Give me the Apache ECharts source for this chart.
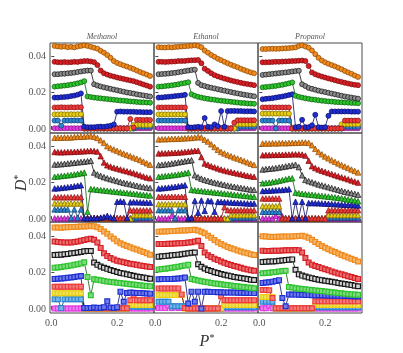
<!DOCTYPE html>
<html>
<head>
<meta charset="utf-8">
<script src="https://cdn.jsdelivr.net/npm/echarts@6/dist/echarts.min.js"></script>
<style>
html, body { margin: 0; background: #fff; }
#chart { width: 403px; height: 353px; }
</style>
</head>
<body>
<div id="chart"></div>
<script>
// reduced pressure on the x axis, shared by every panel
const pStar = [0.01,0.02,0.03,0.04,0.05,0.06,0.07,0.08,0.09,0.10,0.11,0.12,0.13,0.14,0.15,0.16,0.17,0.18,0.19,0.20,0.21,0.22,0.23,0.24,0.25,0.26,0.27,0.28,0.29,0.30];
const solvents = ['Methanol', 'Ethanol', 'Propanol'];
const xTicks = [0, 0.2];
const yTicks = [0, 0.02, 0.04];

// each panel: 9 curves, top to bottom:
// orange, red, black, green, blue, light red, yellow, steel blue, magenta
const methanolCircles = [
  [.0455,.0452,.0450,.0452,.0448,.0450,.0447,.0452,.0455,.0458, .0455,.0450,.0445,.0440,.0428,.0418,.0405,.0390,.0372,.0362, .0355,.0348,.0342,.0335,.0328,.0320,.0312,.0305,.0298,.0290],
  [.0368,.0366,.0365,.0367,.0365,.0366,.0368,.0367,.0370,.0372, .0372,.0370,.0366,.0350,.0320,.0305,.0298,.0292,.0287,.0282, .0278,.0274,.0270,.0266,.0262,.0256,.0250,.0244,.0238,.0232],
  [.0300,.0300,.0302,.0303,.0305,.0307,.0309,.0312,.0315,.0318, .0320,.0320,.0245,.0238,.0233,.0228,.0224,.0220,.0216,.0212, .0208,.0204,.0200,.0197,.0194,.0190,.0187,.0184,.0181,.0178],
  [.0232,.0234,.0236,.0238,.0240,.0243,.0246,.0250,.0255,.0262, .0178,.0175,.0172,.0170,.0168,.0166,.0164,.0162,.0160,.0158, .0156,.0155,.0153,.0151,.0150,.0148,.0147,.0146,.0145,.0144],
  [.0172,.0172,.0174,.0175,.0177,.0180,.0183,.0188,.0195,.0012, .0010,.0010,.0010,.0012,.0013,.0012,.0015,.0018,.0025,.0095, .0096,.0095,.0095,.0094,.0094,.0093,.0093,.0092,.0092,.0092],
  [.0118,.0118,.0119,.0118,.0118,.0119,.0118,.0119,.0119,.0003, .0003,.0003,.0003,.0003,.0004,.0003,.0003,.0004,.0003,.0003, .0004,.0003,.0003,.0055,.0008,.0050,.0050,.0049,.0050,.0049],
  [.0080,.0080,.0081,.0080,.0080,.0081,.0080,.0081,.0081,.0002, .0002,.0002,.0002,.0002,.0002,.0002,.0002,.0002,.0002,.0002, .0002,.0002,.0002,.0002,.0022,.0022,.0023,.0022,.0022,.0022],
  [.0046,.0046,.0018,.0046,.0046,.0046,.0047,.0046,.0046,.0002, .0002,.0002,.0002,.0002,.0002,.0002,.0002,.0002,.0002,.0002, .0002,.0002,.0002,.0002,.0002,.0012,.0012,.0012,.0012,.0012],
  [.0004,.0004,.0004,.0004,.0004,.0004,.0004,.0004,.0004,.0004, .0004,.0004,.0004,.0004,.0004,.0004,.0004,.0004,.0004,.0004, .0004,.0004,.0004,.0004,.0004,.0004,.0004,.0004,.0004,.0004]
];
const ethanolCircles = [
  [.0448,.0447,.0446,.0448,.0447,.0449,.0450,.0452,.0453,.0455, .0456,.0458,.0455,.0448,.0430,.0418,.0405,.0395,.0385,.0377, .0368,.0360,.0352,.0345,.0338,.0330,.0323,.0316,.0310,.0305],
  [.0368,.0368,.0367,.0368,.0369,.0370,.0372,.0372,.0373,.0375, .0376,.0377,.0378,.0360,.0330,.0318,.0305,.0295,.0288,.0282, .0276,.0271,.0266,.0261,.0257,.0253,.0249,.0246,.0243,.0240],
  [.0300,.0301,.0302,.0304,.0306,.0308,.0311,.0314,.0317,.0320, .0323,.0325,.0252,.0240,.0235,.0230,.0226,.0222,.0218,.0214, .0210,.0206,.0202,.0198,.0195,.0191,.0188,.0185,.0182,.0179],
  [.0232,.0233,.0235,.0237,.0239,.0242,.0245,.0249,.0252,.0256, .0190,.0182,.0176,.0172,.0168,.0165,.0162,.0160,.0157,.0155, .0153,.0151,.0149,.0147,.0145,.0143,.0142,.0140,.0139,.0138],
  [.0172,.0173,.0175,.0176,.0178,.0180,.0182,.0184,.0187,.0010, .0008,.0010,.0012,.0010,.0060,.0012,.0010,.0025,.0015,.0098, .0012,.0098,.0099,.0099,.0098,.0098,.0097,.0097,.0097,.0096],
  [.0118,.0118,.0118,.0118,.0118,.0118,.0118,.0118,.0118,.0003, .0003,.0003,.0003,.0003,.0003,.0003,.0003,.0003,.0003,.0003, .0003,.0003,.0003,.0035,.0048,.0048,.0048,.0048,.0048,.0048],
  [.0080,.0080,.0080,.0080,.0080,.0080,.0080,.0080,.0080,.0002, .0002,.0002,.0002,.0002,.0002,.0002,.0002,.0002,.0002,.0002, .0002,.0002,.0002,.0002,.0026,.0026,.0026,.0026,.0026,.0026],
  [.0046,.0046,.0046,.0046,.0046,.0046,.0046,.0046,.0046,.0002, .0002,.0002,.0002,.0002,.0002,.0002,.0002,.0002,.0002,.0002, .0002,.0002,.0002,.0002,.0002,.0012,.0012,.0012,.0012,.0012],
  [.0004,.0004,.0004,.0004,.0004,.0004,.0004,.0004,.0004,.0004, .0004,.0004,.0004,.0004,.0004,.0004,.0004,.0004,.0004,.0004, .0004,.0004,.0004,.0004,.0004,.0004,.0004,.0004,.0004,.0004]
];
const propanolCircles = [
  [.0438,.0438,.0439,.0440,.0439,.0440,.0441,.0442,.0443,.0445, .0447,.0455,.0458,.0452,.0445,.0430,.0410,.0390,.0375,.0365, .0357,.0350,.0343,.0335,.0327,.0318,.0310,.0302,.0293,.0285],
  [.0365,.0365,.0366,.0367,.0368,.0368,.0369,.0370,.0371,.0372, .0373,.0374,.0375,.0372,.0345,.0310,.0300,.0293,.0287,.0282, .0277,.0272,.0267,.0262,.0258,.0253,.0249,.0245,.0242,.0240],
  [.0296,.0298,.0300,.0302,.0304,.0306,.0308,.0310,.0312,.0315, .0317,.0319,.0245,.0235,.0225,.0220,.0215,.0210,.0206,.0202, .0198,.0194,.0190,.0186,.0182,.0178,.0175,.0172,.0169,.0166],
  [.0228,.0230,.0232,.0234,.0236,.0239,.0242,.0246,.0250,.0255, .0182,.0176,.0172,.0168,.0165,.0162,.0160,.0157,.0155,.0153, .0151,.0150,.0148,.0147,.0146,.0145,.0144,.0143,.0142,.0141],
  [.0163,.0165,.0167,.0169,.0172,.0175,.0178,.0182,.0186,.0190, .0010,.0012,.0050,.0010,.0010,.0020,.0078,.0010,.0008,.0010, .0072,.0096,.0096,.0096,.0096,.0096,.0096,.0095,.0095,.0095],
  [.0118,.0118,.0118,.0118,.0118,.0118,.0118,.0118,.0118,.0003, .0003,.0003,.0003,.0003,.0003,.0003,.0003,.0003,.0003,.0003, .0003,.0003,.0003,.0003,.0003,.0046,.0046,.0046,.0046,.0046],
  [.0084,.0084,.0084,.0084,.0084,.0084,.0084,.0084,.0084,.0002, .0002,.0002,.0002,.0002,.0002,.0002,.0002,.0002,.0002,.0002, .0002,.0002,.0002,.0002,.0026,.0026,.0026,.0026,.0026,.0026],
  [.0046,.0046,.0046,.0046,.0003,.0046,.0046,.0046,.0046,.0002, .0002,.0002,.0002,.0002,.0002,.0002,.0002,.0002,.0002,.0002, .0002,.0002,.0002,.0002,.0002,.0012,.0012,.0012,.0012,.0012],
  [.0004,.0004,.0004,.0004,.0004,.0004,.0004,.0004,.0004,.0004, .0004,.0004,.0004,.0004,.0004,.0004,.0004,.0004,.0004,.0004, .0004,.0004,.0004,.0004,.0004,.0004,.0004,.0004,.0004,.0004]
];
const methanolTriangles = [
  [.0446,.0447,.0446,.0448,.0447,.0448,.0450,.0451,.0452,.0452, .0454,.0455,.0452,.0445,.0432,.0418,.0400,.0390,.0382,.0374, .0366,.0359,.0352,.0345,.0338,.0331,.0324,.0315,.0306,.0298],
  [.0368,.0367,.0366,.0367,.0368,.0368,.0369,.0370,.0371,.0372, .0373,.0374,.0373,.0370,.0345,.0310,.0295,.0288,.0282,.0277, .0272,.0267,.0262,.0257,.0252,.0246,.0240,.0234,.0228,.0224],
  [.0299,.0300,.0301,.0303,.0305,.0307,.0309,.0311,.0313,.0315, .0317,.0320,.0255,.0245,.0237,.0230,.0224,.0219,.0214,.0209, .0204,.0199,.0195,.0191,.0187,.0183,.0179,.0176,.0173,.0170],
  [.0232,.0234,.0236,.0238,.0240,.0242,.0245,.0248,.0251,.0255, .0040,.0165,.0163,.0161,.0159,.0157,.0155,.0153,.0151,.0149, .0147,.0145,.0143,.0141,.0139,.0137,.0135,.0133,.0131,.0129],
  [.0168,.0169,.0171,.0173,.0175,.0177,.0180,.0183,.0186,.0005, .0004,.0005,.0006,.0005,.0008,.0012,.0018,.0010,.0005,.0095, .0097,.0095,.0006,.0092,.0093,.0092,.0092,.0091,.0091,.0090],
  [.0120,.0120,.0120,.0120,.0120,.0120,.0120,.0120,.0120,.0005, .0005,.0005,.0005,.0005,.0005,.0005,.0005,.0005,.0005,.0005, .0005,.0005,.0005,.0048,.0048,.0048,.0048,.0048,.0048,.0048],
  [.0086,.0086,.0086,.0086,.0086,.0086,.0086,.0086,.0086,.0003, .0003,.0003,.0003,.0003,.0003,.0003,.0003,.0003,.0003,.0003, .0003,.0003,.0003,.0003,.0022,.0022,.0022,.0022,.0022,.0022],
  [.0053,.0053,.0053,.0053,.0053,.0008,.0053,.0008,.0053,.0003, .0003,.0003,.0003,.0003,.0003,.0003,.0003,.0003,.0003,.0003, .0003,.0003,.0003,.0003,.0003,.0009,.0009,.0009,.0009,.0009],
  [.0004,.0004,.0004,.0004,.0004,.0004,.0004,.0004,.0004,.0004, .0004,.0004,.0004,.0004,.0004,.0004,.0004,.0004,.0004,.0004, .0004,.0004,.0004,.0004,.0004,.0004,.0004,.0004,.0004,.0004]
];
const ethanolTriangles = [
  [.0437,.0438,.0438,.0439,.0440,.0440,.0441,.0442,.0443,.0444, .0445,.0447,.0450,.0448,.0435,.0425,.0410,.0395,.0380,.0368, .0360,.0352,.0345,.0338,.0332,.0325,.0318,.0311,.0304,.0297],
  [.0360,.0361,.0361,.0362,.0363,.0364,.0365,.0366,.0368,.0370, .0372,.0374,.0375,.0340,.0305,.0298,.0290,.0284,.0278,.0272, .0267,.0262,.0258,.0254,.0250,.0246,.0242,.0238,.0235,.0232],
  [.0296,.0298,.0300,.0302,.0305,.0308,.0311,.0314,.0317,.0320, .0323,.0240,.0230,.0222,.0215,.0210,.0205,.0200,.0196,.0192, .0188,.0184,.0180,.0177,.0174,.0171,.0168,.0165,.0162,.0160],
  [.0232,.0234,.0236,.0238,.0240,.0242,.0245,.0248,.0251,.0255, .0160,.0158,.0156,.0154,.0152,.0150,.0148,.0146,.0144,.0142, .0140,.0138,.0136,.0134,.0132,.0130,.0128,.0126,.0124,.0122],
  [.0168,.0169,.0171,.0173,.0175,.0177,.0180,.0183,.0186,.0004, .0006,.0100,.0035,.0102,.0045,.0100,.0098,.0040,.0095,.0094, .0093,.0092,.0091,.0090,.0089,.0088,.0087,.0086,.0085,.0085],
  [.0122,.0122,.0122,.0122,.0122,.0122,.0122,.0122,.0122,.0004, .0004,.0004,.0004,.0004,.0004,.0004,.0004,.0004,.0004,.0004, .0065,.0049,.0049,.0049,.0049,.0049,.0049,.0049,.0049,.0049],
  [.0082,.0082,.0082,.0082,.0082,.0082,.0082,.0082,.0082,.0003, .0003,.0003,.0003,.0003,.0003,.0003,.0003,.0003,.0003,.0003, .0003,.0003,.0022,.0022,.0022,.0022,.0022,.0022,.0022,.0022],
  [.0049,.0049,.0049,.0049,.0049,.0006,.0049,.0049,.0049,.0003, .0003,.0003,.0003,.0003,.0003,.0003,.0003,.0003,.0003,.0003, .0003,.0003,.0003,.0009,.0009,.0009,.0009,.0009,.0009,.0009],
  [.0004,.0004,.0004,.0004,.0018,.0004,.0004,.0004,.0004,.0003, .0003,.0003,.0003,.0003,.0003,.0003,.0003,.0003,.0003,.0003, .0003,.0003,.0003,.0003,.0003,.0003,.0003,.0003,.0003,.0003]
];
const propanolTriangles = [
  [.0414,.0415,.0414,.0416,.0415,.0416,.0417,.0416,.0417,.0418, .0418,.0419,.0420,.0420,.0418,.0405,.0385,.0368,.0355,.0343, .0333,.0323,.0314,.0305,.0296,.0288,.0280,.0272,.0264,.0256],
  [.0350,.0351,.0351,.0352,.0352,.0353,.0353,.0354,.0354,.0355, .0355,.0355,.0354,.0348,.0320,.0290,.0280,.0272,.0265,.0259, .0253,.0247,.0241,.0235,.0229,.0224,.0218,.0212,.0206,.0200],
  [.0272,.0274,.0276,.0278,.0280,.0283,.0286,.0289,.0292,.0295, .0298,.0285,.0240,.0215,.0208,.0202,.0196,.0190,.0185,.0180, .0175,.0170,.0165,.0160,.0155,.0150,.0146,.0142,.0138,.0134],
  [.0196,.0198,.0200,.0203,.0206,.0210,.0214,.0218,.0222,.0224, .0145,.0142,.0139,.0137,.0135,.0133,.0131,.0129,.0127,.0125, .0123,.0121,.0119,.0117,.0114,.0111,.0108,.0105,.0102,.0098],
  [.0154,.0155,.0156,.0157,.0158,.0159,.0160,.0162,.0164,.0004, .0095,.0005,.0095,.0005,.0088,.0088,.0087,.0087,.0086,.0085, .0084,.0083,.0082,.0081,.0080,.0079,.0078,.0077,.0076,.0075],
  [.0113,.0113,.0113,.0113,.0113,.0113,.0004,.0004,.0004,.0004, .0004,.0004,.0004,.0004,.0004,.0004,.0004,.0004,.0004,.0004, .0049,.0049,.0049,.0049,.0049,.0049,.0049,.0049,.0049,.0049],
  [.0071,.0071,.0071,.0071,.0071,.0071,.0003,.0003,.0003,.0003, .0003,.0003,.0003,.0003,.0003,.0003,.0003,.0003,.0003,.0003, .0022,.0022,.0022,.0022,.0022,.0022,.0022,.0022,.0022,.0022],
  [.0040,.0040,.0040,.0040,.0040,.0040,.0003,.0003,.0003,.0003, .0003,.0003,.0003,.0003,.0003,.0003,.0003,.0003,.0003,.0003, .0009,.0009,.0009,.0009,.0009,.0009,.0009,.0009,.0009,.0009],
  [.0004,.0004,.0004,.0004,.0018,.0004,.0015,.0004,.0003,.0003, .0003,.0003,.0003,.0003,.0003,.0003,.0003,.0003,.0003,.0003, .0003,.0003,.0003,.0003,.0003,.0003,.0003,.0003,.0003,.0003]
];
const methanolSquares = [
  [.0447,.0447,.0446,.0448,.0448,.0449,.0450,.0451,.0452,.0453, .0454,.0455,.0454,.0448,.0438,.0425,.0412,.0398,.0385,.0372, .0360,.0352,.0345,.0338,.0332,.0326,.0320,.0313,.0306,.0298],
  [.0370,.0368,.0366,.0365,.0364,.0365,.0367,.0370,.0374,.0378, .0382,.0385,.0380,.0365,.0335,.0305,.0290,.0280,.0272,.0265, .0260,.0256,.0252,.0248,.0245,.0242,.0239,.0236,.0233,.0230],
  [.0296,.0297,.0298,.0300,.0302,.0305,.0307,.0310,.0313,.0316, .0318,.0318,.0255,.0242,.0233,.0226,.0220,.0214,.0208,.0203, .0198,.0194,.0190,.0186,.0182,.0178,.0175,.0172,.0169,.0166],
  [.0226,.0228,.0230,.0233,.0236,.0239,.0242,.0246,.0250,.0256, .0175,.0075,.0163,.0160,.0157,.0154,.0151,.0148,.0146,.0144, .0142,.0140,.0138,.0136,.0134,.0132,.0130,.0128,.0126,.0124],
  [.0165,.0166,.0167,.0169,.0171,.0173,.0175,.0178,.0181,.0006, .0005,.0006,.0008,.0006,.0007,.0010,.0042,.0008,.0006,.0010, .0095,.0040,.0088,.0090,.0089,.0088,.0087,.0086,.0085,.0084],
  [.0122,.0122,.0122,.0122,.0122,.0122,.0122,.0122,.0122,.0004, .0004,.0004,.0004,.0004,.0004,.0004,.0004,.0004,.0004,.0004, .0004,.0004,.0004,.0048,.0075,.0048,.0048,.0048,.0048,.0048],
  [.0086,.0086,.0086,.0086,.0086,.0086,.0086,.0086,.0086,.0003, .0003,.0003,.0003,.0003,.0003,.0003,.0003,.0003,.0003,.0003, .0003,.0003,.0003,.0022,.0022,.0022,.0022,.0022,.0022,.0022],
  [.0053,.0053,.0005,.0053,.0053,.0053,.0053,.0053,.0053,.0003, .0003,.0003,.0003,.0003,.0003,.0003,.0003,.0003,.0003,.0003, .0003,.0003,.0003,.0012,.0012,.0012,.0012,.0012,.0012,.0012],
  [.0003,.0003,.0003,.0003,.0003,.0003,.0003,.0003,.0003,.0003, .0003,.0003,.0003,.0003,.0003,.0003,.0003,.0003,.0003,.0003, .0003,.0003,.0003,.0003,.0003,.0003,.0003,.0003,.0003,.0003]
];
const ethanolSquares = [
  [.0424,.0425,.0425,.0426,.0427,.0428,.0429,.0430,.0431,.0432, .0433,.0434,.0430,.0424,.0415,.0402,.0390,.0378,.0366,.0356, .0348,.0340,.0333,.0327,.0321,.0315,.0310,.0305,.0300,.0296],
  [.0356,.0357,.0356,.0358,.0358,.0359,.0360,.0361,.0362,.0364, .0366,.0370,.0374,.0345,.0310,.0295,.0285,.0276,.0268,.0260, .0253,.0247,.0241,.0236,.0231,.0226,.0221,.0217,.0213,.0210],
  [.0287,.0289,.0290,.0292,.0294,.0296,.0298,.0300,.0303,.0305, .0308,.0310,.0245,.0232,.0222,.0214,.0208,.0202,.0197,.0192, .0188,.0184,.0180,.0176,.0173,.0170,.0167,.0164,.0161,.0159],
  [.0217,.0219,.0221,.0223,.0226,.0229,.0232,.0236,.0239,.0242, .0165,.0160,.0156,.0152,.0149,.0146,.0143,.0140,.0138,.0135, .0133,.0131,.0129,.0126,.0124,.0122,.0120,.0118,.0116,.0114],
  [.0163,.0164,.0164,.0165,.0165,.0166,.0167,.0168,.0172,.0030, .0095,.0040,.0095,.0002,.0094,.0094,.0093,.0093,.0092,.0092, .0091,.0091,.0090,.0090,.0089,.0089,.0088,.0088,.0087,.0087],
  [.0113,.0113,.0113,.0113,.0113,.0113,.0113,.0080,.0005,.0003, .0003,.0003,.0003,.0003,.0003,.0003,.0003,.0003,.0003,.0070, .0048,.0048,.0048,.0048,.0048,.0048,.0048,.0048,.0048,.0048],
  [.0077,.0077,.0077,.0077,.0077,.0077,.0077,.0077,.0003,.0003, .0003,.0003,.0003,.0003,.0003,.0003,.0003,.0003,.0003,.0003, .0022,.0022,.0022,.0022,.0022,.0022,.0022,.0022,.0022,.0022],
  [.0040,.0040,.0040,.0040,.0015,.0015,.0015,.0015,.0015,.0003, .0003,.0003,.0003,.0003,.0003,.0003,.0003,.0003,.0003,.0003, .0010,.0010,.0010,.0010,.0010,.0010,.0010,.0010,.0010,.0010],
  [.0005,.0005,.0005,.0018,.0005,.0015,.0005,.0005,.0005,.0003, .0003,.0003,.0003,.0003,.0003,.0003,.0003,.0003,.0003,.0003, .0003,.0003,.0003,.0003,.0003,.0003,.0003,.0003,.0003,.0003]
];
const propanolSquares = [
  [.0399,.0398,.0396,.0395,.0396,.0396,.0397,.0397,.0398,.0398, .0399,.0400,.0402,.0398,.0390,.0380,.0368,.0356,.0345,.0336, .0328,.0320,.0312,.0304,.0296,.0289,.0282,.0275,.0268,.0260],
  [.0320,.0318,.0318,.0319,.0320,.0320,.0321,.0322,.0322,.0322, .0323,.0322,.0310,.0280,.0255,.0243,.0236,.0230,.0224,.0218, .0212,.0206,.0200,.0195,.0190,.0185,.0180,.0175,.0170,.0165],
  [.0258,.0259,.0260,.0261,.0262,.0264,.0266,.0268,.0270,.0272, .0215,.0190,.0183,.0178,.0173,.0169,.0165,.0161,.0158,.0155, .0152,.0149,.0146,.0143,.0140,.0137,.0134,.0131,.0128,.0125],
  [.0196,.0197,.0199,.0201,.0203,.0206,.0208,.0210,.0120,.0118, .0114,.0112,.0110,.0108,.0106,.0104,.0102,.0100,.0098,.0096, .0094,.0092,.0090,.0088,.0086,.0084,.0082,.0080,.0079,.0078],
  [.0143,.0145,.0147,.0150,.0153,.0158,.0060,.0015,.0080,.0079, .0079,.0078,.0078,.0077,.0077,.0076,.0076,.0075,.0075,.0074, .0074,.0073,.0073,.0072,.0072,.0071,.0071,.0070,.0070,.0069],
  [.0104,.0104,.0103,.0060,.0004,.0004,.0004,.0004,.0004,.0004, .0004,.0004,.0004,.0004,.0004,.0004,.0042,.0042,.0042,.0042, .0042,.0042,.0042,.0042,.0042,.0042,.0042,.0042,.0042,.0042],
  [.0066,.0066,.0066,.0066,.0003,.0003,.0003,.0003,.0003,.0003, .0003,.0003,.0003,.0003,.0003,.0003,.0022,.0022,.0022,.0022, .0022,.0022,.0022,.0022,.0022,.0022,.0022,.0022,.0022,.0022],
  [.0040,.0040,.0040,.0040,.0003,.0003,.0003,.0003,.0003,.0003, .0003,.0003,.0003,.0003,.0003,.0003,.0010,.0010,.0010,.0010, .0010,.0010,.0010,.0010,.0010,.0010,.0010,.0010,.0010,.0010],
  [.0004,.0004,.0018,.0004,.0003,.0003,.0003,.0003,.0003,.0003, .0003,.0003,.0003,.0003,.0003,.0003,.0003,.0003,.0003,.0003, .0003,.0003,.0003,.0003,.0003,.0003,.0003,.0003,.0003,.0003]
];

const panels = [
  [methanolCircles, ethanolCircles, propanolCircles],
  [methanolTriangles, ethanolTriangles, propanolTriangles],
  [methanolSquares, ethanolSquares, propanolSquares]
];

// marker look, one entry per curve
const fillColors = ['#f08a1c', '#d81f26', '#8c8c8c', '#2ec42e', '#1f2fd2', '#ec3c3c', '#e8cf12', '#2e86d2', '#e23ce2'];
const edgeColors = ['#8a4600', '#760a0a', '#111111', '#0a5c0a', '#0a0a66', '#8c1010', '#7c6a00', '#0a3c6c', '#7a107a'];
// square centres: a paler tint of the fill
const tintColors = ['#f6b66a', '#ea6f6f', '#d4d4d4', '#80da80', '#6f7ce8', '#f27e7e', '#f0e060', '#74b4e8', '#ec80ec'];
const rowSymbols = ['circle', 'triangle', 'rect'];
const rowSizes = [5, 5.5, 4.8];

const colLeft = [50, 154, 258];
const panelW = 104;
const rowTop = [43, 133, 222];
const rowH = [90, 89, 91];
const yMin = [-0.0022, -0.0016, -0.0022];
const yMax = [0.0471, 0.0472, 0.0477];

const font = 'Liberation Serif';
const grids = [], xAxes = [], yAxes = [], series = [];

panels.forEach(function (row, r) {
  row.forEach(function (panel, c) {
    const k = grids.length;
    grids.push({
      left: colLeft[c], top: rowTop[r], width: panelW, height: rowH[r],
      show: true, borderColor: '#4a4a4a', borderWidth: 1, backgroundColor: 'transparent'
    });
    xAxes.push({
      type: 'value', gridIndex: k, min: -0.004, max: 0.312,
      axisLine: { show: false }, splitLine: { show: false },
      axisTick: { show: true, inside: true, length: 3, customValues: xTicks, lineStyle: { color: '#4a4a4a' } },
      axisLabel: {
        show: r === 2, customValues: xTicks, margin: 5,
        fontFamily: font, fontSize: 10, color: '#555',
        formatter: function (v) { return v.toFixed(1); }
      }
    });
    yAxes.push({
      type: 'value', gridIndex: k, min: yMin[r], max: yMax[r],
      axisLine: { show: false }, splitLine: { show: false },
      axisTick: { show: true, inside: true, length: 3, customValues: yTicks, lineStyle: { color: '#4a4a4a' } },
      axisLabel: {
        show: c === 0, customValues: yTicks, margin: 4,
        fontFamily: font, fontSize: 10, color: '#555',
        formatter: function (v) { return v.toFixed(2); }
      }
    });
    // lowest curves first so the upper ones sit on top
    for (let s = panel.length - 1; s >= 0; s--) {
      const sq = r === 2;
      series.push({
        type: 'line', xAxisIndex: k, yAxisIndex: k,
        data: pStar.map(function (x, i) { return [x, panel[s][i]]; }),
        symbol: rowSymbols[r], symbolSize: rowSizes[r],
        showSymbol: true, showAllSymbol: true, clip: true,
        lineStyle: { color: edgeColors[s], width: 0.8 },
        itemStyle: sq
          ? { color: tintColors[s], borderColor: s === 2 ? '#1a1a1a' : fillColors[s], borderWidth: 1.2 }
          : { color: fillColors[s], borderColor: edgeColors[s], borderWidth: 0.7 },
        emphasis: { disabled: true }, silent: true
      });
    }
  });
});

const graphics = solvents.map(function (name, c) {
  return {
    type: 'text', x: colLeft[c] + panelW / 2, y: 37,
    style: { text: name, font: 'italic 8px ' + font, fill: '#555', textAlign: 'center', textVerticalAlign: 'middle' }
  };
});
graphics.push({
  type: 'text', x: 22, y: 183, rotation: Math.PI / 2,
  style: {
    text: '{d|D}{s|*}', textAlign: 'center', textVerticalAlign: 'middle',
    rich: {
      d: { fontFamily: font, fontStyle: 'italic', fontSize: 16, fill: '#333' },
      s: { fontFamily: font, fontSize: 10, fill: '#333', verticalAlign: 'top', padding: [0, 0, 8, 0] }
    }
  }
});
graphics.push({
  type: 'text', x: 207, y: 342,
  style: {
    text: '{d|P}{s|*}', textAlign: 'center', textVerticalAlign: 'middle',
    rich: {
      d: { fontFamily: font, fontStyle: 'italic', fontSize: 16, fill: '#333' },
      s: { fontFamily: font, fontSize: 10, fill: '#333', verticalAlign: 'top', padding: [0, 0, 8, 0] }
    }
  }
});

const chart = echarts.init(document.getElementById('chart'));
chart.setOption({
  animation: false,
  backgroundColor: '#fff',
  grid: grids,
  xAxis: xAxes,
  yAxis: yAxes,
  series: series,
  graphic: graphics
});
</script>
</body>
</html>
